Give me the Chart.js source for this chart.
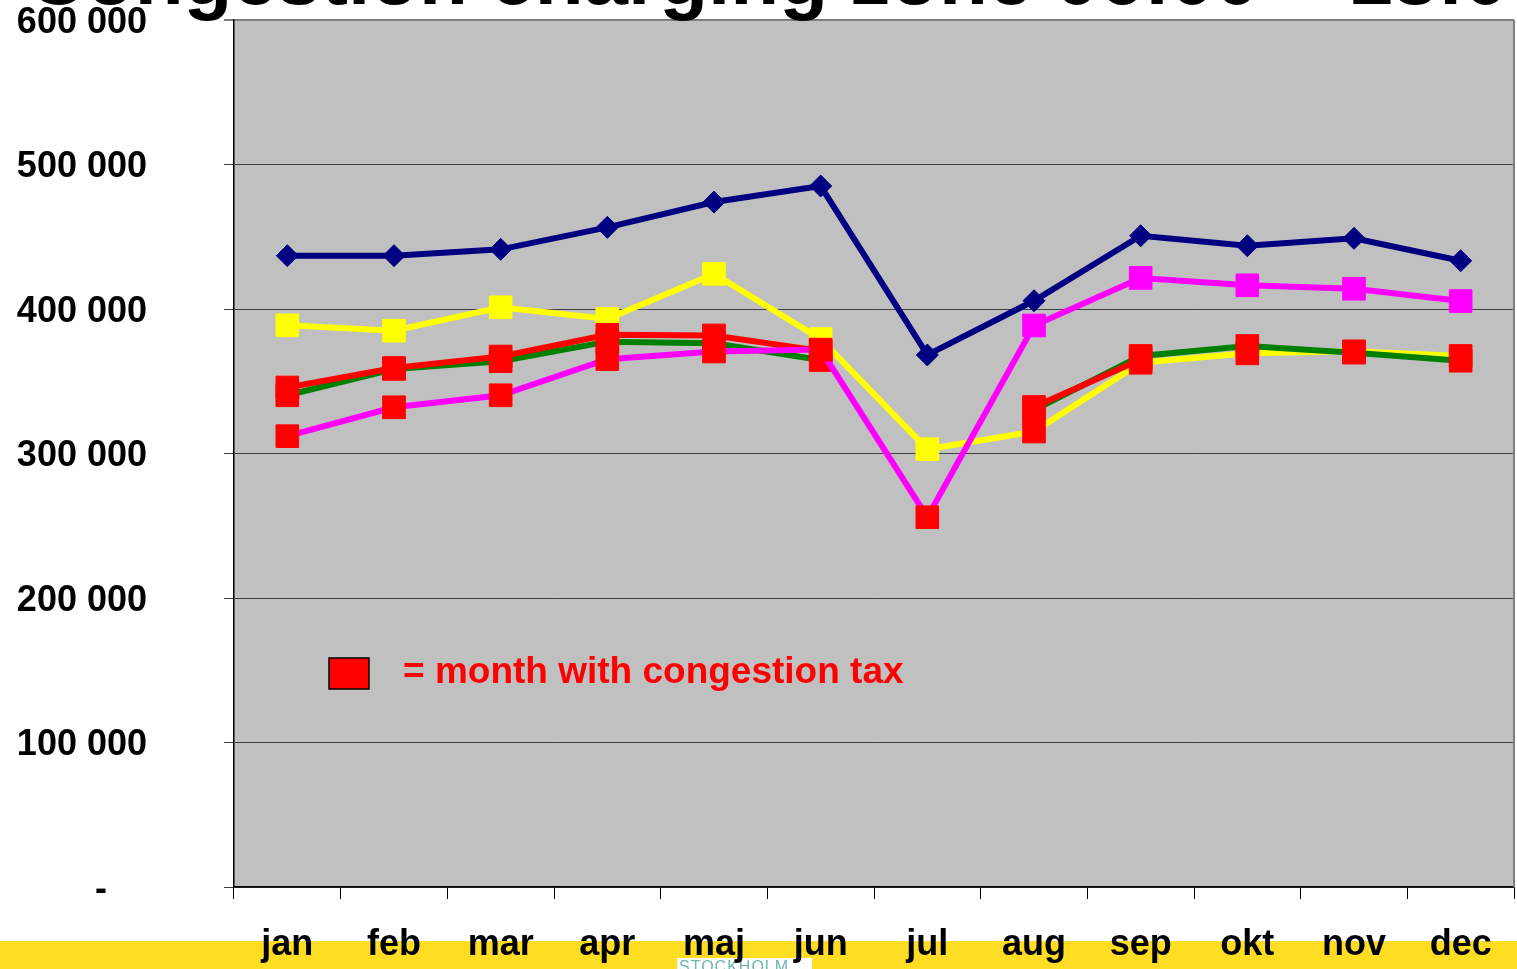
<!DOCTYPE html>
<html>
<head>
<meta charset="utf-8">
<title>Congestion charging zone</title>
<script src="https://cdn.jsdelivr.net/npm/chart.js@4.4.1/dist/chart.umd.min.js"></script>
<style>
    html, body { margin: 0; padding: 0; background: #ffffff; }
    .wrap { position: relative; width: 1517px; height: 969px; }
</style>
</head>
<body>
<div class="wrap"><canvas id="trafficChart"></canvas></div>
<script>
// Data (passages per month)
const months = ['jan', 'feb', 'mar', 'apr', 'maj', 'jun', 'jul', 'aug', 'sep', 'okt', 'nov', 'dec'];
const yTicks = [0, 100000, 200000, 300000, 400000, 500000, 600000];

const series2005 = [436900, 436900, 441300, 456500, 474000, 485100, 368200, 405700, 450700, 443800, 448900, 433400];
const series2006 = [312000, 332000, 340300, 365300, 370600, 371900, 255900, 388600, 421500, 416400, 414000, 405500];
const series2007 = [388700, 385000, 401200, 393100, 424300, 379200, 303000, 315200, 362800, 369300, 370700, 367500];
const series2008 = [340300, 358500, 363900, 377400, 376300, 364700, null, 330100, 367500, 374400, 369800, 364200];
const series2009 = [345700, 359200, 367100, 382100, 381700, 371000, null, 332200, 365100, null, null, null];

// Months with congestion tax for each series
const tax2005 = [0, 0, 0, 0, 0, 0, 0, 0, 0, 0, 0, 0];
const tax2006 = [1, 1, 1, 1, 1, 1, 1, 0, 0, 0, 0, 0];
const tax2007 = [0, 0, 0, 0, 0, 0, 0, 1, 1, 1, 1, 1];
const tax2008 = [1, 1, 1, 1, 1, 1, 1, 1, 1, 1, 1, 1];
const tax2009 = [1, 1, 1, 1, 1, 1, 1, 1, 1, 1, 1, 1];

const FONT = '"Liberation Sans", Arial, sans-serif';
const TAX_RED = '#ff0000';

function markerColors(flags, base) {
    return flags.map(f => f ? TAX_RED : base);
}

function makeSeries(label, values, flags, color, style, radius) {
    const pts = markerColors(flags, color);
    return {
        label: label,
        data: values,
        borderColor: color,
        borderWidth: 6,
        pointStyle: style,
        pointRadius: radius,
        pointBackgroundColor: pts,
        pointBorderColor: pts,
        pointBorderWidth: 1,
        tension: 0,
        spanGaps: false,
        fill: false
    };
}

// Grey plot area, yellow footer band and logo
const backdrop = {
    id: 'backdrop',
    beforeDraw(chart) {
        const ctx = chart.ctx;
        const a = chart.chartArea;
        ctx.save();
        ctx.fillStyle = '#ffffff';
        ctx.fillRect(0, 0, chart.width, chart.height);
        ctx.fillStyle = '#ffdd22';
        ctx.fillRect(0, 941, chart.width, chart.height - 941);
        ctx.fillStyle = '#ffffff';
        ctx.fillRect(677, 958, 135, 11);
        ctx.font = '16px ' + FONT;
        ctx.letterSpacing = '1px';
        ctx.fillStyle = '#6fb5b0';
        ctx.textBaseline = 'top';
        ctx.fillText('STOCKHOLM', 679, 960);
        ctx.letterSpacing = '0px';
        ctx.fillStyle = '#c0c0c0';
        ctx.fillRect(a.left, a.top, a.width, a.height);
        ctx.restore();
    },
    afterDraw(chart) {
        const ctx = chart.ctx;
        const a = chart.chartArea;
        ctx.save();
        // right border of plot
        ctx.strokeStyle = '#808080';
        ctx.lineWidth = 2;
        ctx.beginPath();
        ctx.moveTo(a.right, a.top);
        ctx.lineTo(a.right, a.bottom);
        ctx.stroke();

        // title, cut by the top edge
        ctx.fillStyle = '#000000';
        ctx.font = 'bold 80px ' + FONT;
        ctx.textBaseline = 'alphabetic';
        ctx.textAlign = 'left';
        ctx.fillText('Congestion charging zone 06:00 \u2013 18:00', 28, 4);

        // key for red markers
        const bx = a.left + 95, by = a.top + 638;
        ctx.fillStyle = TAX_RED;
        ctx.fillRect(bx, by, 40, 31);
        ctx.strokeStyle = '#000000';
        ctx.lineWidth = 1.5;
        ctx.strokeRect(bx, by, 40, 31);
        ctx.fillStyle = TAX_RED;
        ctx.font = 'bold 37px ' + FONT;
        ctx.fillText('= month with congestion tax', bx + 74, by + 25);
        ctx.restore();
    }
};

document.addEventListener('DOMContentLoaded', function () {
    const ctx = document.getElementById('trafficChart').getContext('2d');
    new Chart(ctx, {
        type: 'line',
        data: {
            labels: months,
            datasets: [
                makeSeries('2005', series2005, tax2005, '#000080', 'rectRot', 11),
                makeSeries('2006', series2006, tax2006, '#ff00ff', 'rect', 16),
                makeSeries('2009', series2009, tax2009, '#ff0000', 'rect', 16),
                makeSeries('2008', series2008, tax2008, '#008000', 'rect', 16),
                makeSeries('2007', series2007, tax2007, '#ffff00', 'rect', 16)
            ]
        },
        options: {
            responsive: true,
            maintainAspectRatio: false,
            animation: false,
            events: [],
            layout: {
                autoPadding: false,
                padding: { top: 20, left: 15, right: 3, bottom: 0 }
            },
            plugins: {
                legend: { display: false },
                tooltip: { enabled: false }
            },
            scales: {
                x: {
                    offset: true,
                    afterFit: function (scale) {
                        scale.height = 82;
                        scale.paddingLeft = 0;
                        scale.paddingRight = 0;
                    },
                    grid: {
                        offset: true,
                        drawOnChartArea: false,
                        drawTicks: true,
                        tickLength: 12,
                        color: '#000000'
                    },
                    border: { color: '#000000', width: 1.5 },
                    ticks: {
                        padding: 28,
                        color: '#000000',
                        font: { family: FONT, size: 36, weight: 'bold', lineHeight: 1 }
                    }
                },
                y: {
                    min: 0,
                    max: 600000,
                    afterFit: function (scale) {
                        // tick padding is only meant as the gap to the axis
                        scale.width = 219;
                        scale.paddingTop = 0;
                        scale.paddingBottom = 0;
                    },
                    afterBuildTicks: function (scale) {
                        scale.ticks = yTicks.map(v => ({ value: v }));
                    },
                    grid: {
                        tickLength: 10,
                        color: c => c.tick && c.tick.value === 600000 ? '#808080' : '#404040',
                        lineWidth: c => c.tick && c.tick.value === 600000 ? 2 : 1
                    },
                    border: { color: '#000000', width: 1.5 },
                    ticks: {
                        padding: 77,
                        labelOffset: 3,
                        color: '#000000',
                        font: { family: FONT, size: 36, weight: 'bold', lineHeight: 1 },
                        callback: function (value) {
                            if (value === 0) return '-    ';
                            return String(value).replace(/\B(?=(\d{3})+(?!\d))/g, ' ');
                        }
                    }
                }
            }
        },
        plugins: [backdrop]
    });
});
</script>
</body>
</html>
